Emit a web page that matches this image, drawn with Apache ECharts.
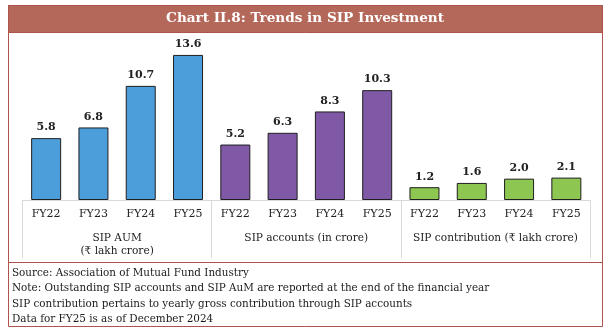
<!DOCTYPE html>
<html>
<head>
<meta charset="utf-8">
<script src="https://cdn.jsdelivr.net/npm/echarts@6/dist/echarts.min.js"></script>
<style>
  html, body { margin: 0; padding: 0; background: #ffffff; }
  #chart { width: 610px; height: 336px; }
</style>
</head>
<body>
<div id="chart"></div>
<script>
// Fiscal years shown within each group
const years = ['FY22', 'FY23', 'FY24', 'FY25'];
// Group captions along the bottom
const groups = ['SIP AUM\n(₹ lakh crore)', 'SIP accounts (in crore)', 'SIP contribution (₹ lakh crore)'];
// Values per metric
const sipAum = [5.8, 6.8, 10.7, 13.6];
const sipAccounts = [5.2, 6.3, 8.3, 10.3];
const sipContribution = [1.2, 1.6, 2.0, 2.1];

const titleText = 'Chart II.8: Trends in SIP Investment';
const notes = [
  'Source: Association of Mutual Fund Industry',
  'Note: Outstanding SIP accounts and SIP AuM are reported at the end of the financial year',
  'SIP contribution pertains to yearly gross contribution through SIP accounts',
  'Data for FY25 is as of December 2024'
];

const FONT = 'DejaVu Serif';
const FRAME = '#b0534c';

// Twelve slots: the four years repeated for each metric
const categories = [].concat(years, years, years);
function place(values, groupIndex) {
  const out = new Array(categories.length).fill(null);
  values.forEach((v, i) => { out[groupIndex * years.length + i] = v; });
  return out;
}

function barSeries(name, values, groupIndex, color) {
  return {
    name: name,
    type: 'bar',
    stack: 'all',
    barWidth: 30,
    data: place(values, groupIndex),
    itemStyle: { color: color, borderColor: '#1f1f1f', borderWidth: 1 },
    label: {
      show: true,
      position: 'top',
      distance: 5,
      fontFamily: FONT,
      fontWeight: 'bold',
      fontSize: 11,
      color: '#222',
      formatter: p => (p.value == null ? '' : Number(p.value).toFixed(1))
    }
  };
}

const chart = echarts.init(document.getElementById('chart'), null, { renderer: 'canvas' });
chart.setOption({
  animation: false,
  backgroundColor: '#ffffff',
  graphic: [
    // outer frame of the chart panel
    { type: 'rect', shape: { x: 8.5, y: 5.5, width: 594, height: 257 },
      style: { fill: 'none', stroke: FRAME, lineWidth: 1 }, z: 10 },
    // heading band
    { type: 'rect', shape: { x: 8.5, y: 5.5, width: 594, height: 27 },
      style: { fill: '#b4685a', stroke: FRAME, lineWidth: 1 }, z: 9 },
    // notes box
    { type: 'rect', shape: { x: 8.5, y: 262.5, width: 594, height: 64 },
      style: { fill: 'none', stroke: FRAME, lineWidth: 1 }, z: 10 },
    { type: 'text', left: 12, top: 265.5, z: 11,
      style: { text: notes.join('\n'), fontFamily: FONT, fontSize: 10.4, lineHeight: 15.5, fill: '#1a1a1a' } }
  ],
  title: {
    text: titleText,
    left: 'center',
    top: 11,
    padding: 0,
    textStyle: { fontFamily: FONT, fontWeight: 'bold', fontSize: 13.6, color: '#ffffff' },
    z: 12
  },
  grid: { left: 22.5, right: 20, top: 40, bottom: 136 },
  xAxis: [
    {
      type: 'category',
      data: categories,
      position: 'bottom',
      axisLine: { show: true, lineStyle: { color: '#d9d9d9', width: 1 } },
      axisTick: { show: false },
      axisLabel: { interval: 0, margin: 9, fontFamily: FONT, fontSize: 11, color: '#222' }
    },
    {
      type: 'category',
      data: groups,
      position: 'bottom',
      boundaryGap: true,
      axisLine: { show: false },
      axisTick: { show: true, length: 58, lineStyle: { color: '#d9d9d9', width: 1 } },
      axisLabel: { interval: 0, margin: 32, fontFamily: FONT, fontSize: 10.6, lineHeight: 13, color: '#222' }
    }
  ],
  yAxis: { type: 'value', min: 0, max: 15, show: false, splitLine: { show: false } },
  series: [
    barSeries('SIP AUM', sipAum, 0, '#4c9edb'),
    barSeries('SIP accounts', sipAccounts, 1, '#8059a6'),
    barSeries('SIP contribution', sipContribution, 2, '#8dc651')
  ]
});
</script>
</body>
</html>
